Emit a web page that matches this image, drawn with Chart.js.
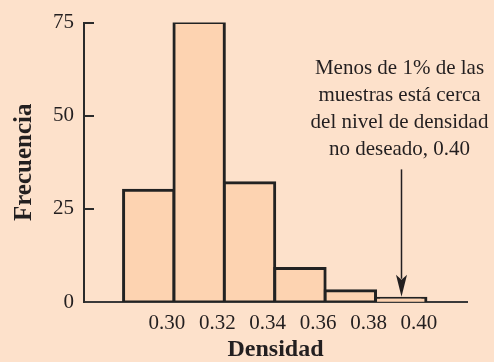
<!DOCTYPE html>
<html>
<head>
<meta charset="utf-8">
<script src="https://cdn.jsdelivr.net/npm/chart.js@4"></script>
<style>
  html, body { margin: 0; padding: 0; background: #fde1cb; }
  canvas { display: block; }
</style>
</head>
<body>
<canvas id="histo" width="494" height="362"></canvas>
<script>
// bins: left edges, width 0.02
const binStarts = [0.28, 0.30, 0.32, 0.34, 0.36, 0.38];
const binWidth = 0.02;
const frecuencias = [30, 75, 32, 9, 3, 1];
const xTicks = [0.30, 0.32, 0.34, 0.36, 0.38, 0.40];
const yTicks = [0, 25, 50, 75];
const notaLineas = [
  "Menos de 1% de las",
  "muestras está cerca",
  "del nivel de densidad",
  "no deseado, 0.40"
];
const flechaX = 0.39;      // where the arrow points
const flechaDesde = 35.6;  // arrow start (frequency units)
const flechaHasta = 1;     // arrow tip

const BG = "#fde1cb";
const INK = "#231f20";
const SERIF = "'Liberation Serif', 'Times New Roman', serif";

const puntos = binStarts.map((b, i) => ({ x: b + binWidth / 2, y: frecuencias[i] }));

// background + inward ticks on y axis + arrow note
const decor = {
  id: "decor",
  beforeDraw(chart) {
    const { ctx, width, height } = chart;
    ctx.save();
    ctx.fillStyle = BG;
    ctx.fillRect(0, 0, width, height);
    ctx.restore();
  },
  afterDraw(chart) {
    const { ctx, scales: { x, y } } = chart;
    ctx.save();
    ctx.strokeStyle = "#2b2b2b";
    ctx.lineWidth = 2;
    yTicks.slice(1).forEach((v) => {
      const py = Math.round(y.getPixelForValue(v));
      ctx.beginPath();
      ctx.moveTo(x.left, py);
      ctx.lineTo(x.left + 10, py);
      ctx.stroke();
    });

    const ax = Math.round(x.getPixelForValue(flechaX)) + 0.5;
    const top = y.getPixelForValue(flechaDesde);
    const tip = y.getPixelForValue(flechaHasta) - 1.5;
    ctx.strokeStyle = INK;
    ctx.lineWidth = 1.5;
    ctx.beginPath();
    ctx.moveTo(ax, top);
    ctx.lineTo(ax, tip - 18);
    ctx.stroke();
    ctx.fillStyle = INK;
    ctx.beginPath();
    ctx.moveTo(ax, tip);
    ctx.lineTo(ax - 5.5, tip - 22);
    ctx.lineTo(ax, tip - 17);
    ctx.lineTo(ax + 5.5, tip - 22);
    ctx.closePath();
    ctx.fill();

    ctx.font = "21px " + SERIF;
    ctx.textAlign = "center";
    ctx.textBaseline = "alphabetic";
    notaLineas.forEach((t, i) => {
      ctx.fillText(t, ax - 2, top - 95 + i * 27);
    });
    ctx.restore();
  }
};

new Chart(document.getElementById("histo"), {
  type: "bar",
  data: {
    datasets: [{
      data: puntos,
      backgroundColor: "#fdd3b1",
      borderColor: "#222222",
      borderWidth: 3,
      borderSkipped: false,
      inflateAmount: 1.5,
      barPercentage: 1,
      categoryPercentage: 1
    }]
  },
  options: {
    responsive: false,
    animation: false,
    events: [],
    layout: { padding: { top: 18, right: 27, left: 0, bottom: 0 } },
    plugins: { legend: { display: false }, tooltip: { enabled: false } },
    scales: {
      x: {
        type: "linear",
        offset: false,
        min: 0.2643,
        max: 0.4163,
        grid: { display: false, drawTicks: false },
        border: { display: true, color: "#3a3a3a", width: 2 },
        afterBuildTicks: (s) => { s.ticks = xTicks.map((v) => ({ value: v })); },
        afterFit: (s) => { s.height = 60; },
        ticks: {
          color: INK,
          padding: 9,
          labelOffset: -7,
          maxRotation: 0,
          autoSkip: false,
          font: { family: SERIF, size: 21 },
          callback: (v) => Number(v).toFixed(2)
        },
        title: {
          display: true,
          text: "Densidad",
          color: INK,
          padding: 0,
          font: { family: SERIF, size: 24, weight: "bold", lineHeight: 1 }
        }
      },
      y: {
        min: 0,
        max: 75,
        grid: { display: false, drawTicks: false },
        border: { display: true, color: "#2b2b2b", width: 2 },
        afterBuildTicks: (s) => { s.ticks = yTicks.map((v) => ({ value: v })); },
        afterFit: (s) => { s.width = 84; },
        ticks: {
          color: INK,
          padding: 10,
          font: { family: SERIF, size: 21 }
        },
        title: {
          display: true,
          text: "Frecuencia",
          color: INK,
          padding: { top: 10 },
          font: { family: SERIF, size: 25, weight: "bold" }
        }
      }
    }
  },
  plugins: [decor]
});
</script>
</body>
</html>
